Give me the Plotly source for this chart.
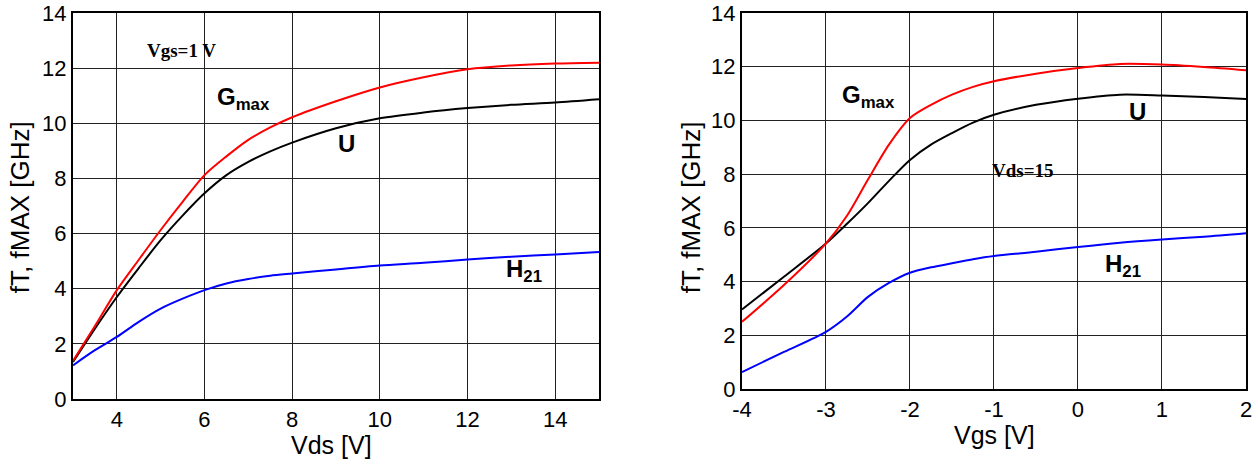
import plotly.graph_objects as go

# Left panel: vs Vds (Vgs = 1 V)
vds = [3, 3.5, 4, 4.5, 5, 5.5, 6, 6.5, 7, 7.5, 8, 9, 10, 11, 12, 13, 14, 15]
gmax_vds = [1.38, 2.65, 3.95, 5.05, 6.13, 7.15, 8.12, 8.8, 9.4, 9.85, 10.22, 10.8, 11.3, 11.67, 11.96, 12.1, 12.17, 12.2]
u_vds = [1.34, 2.55, 3.7, 4.75, 5.76, 6.65, 7.46, 8.12, 8.6, 8.98, 9.3, 9.82, 10.18, 10.39, 10.55, 10.67, 10.75, 10.87]
h21_vds = [1.22, 1.77, 2.25, 2.8, 3.28, 3.64, 3.95, 4.19, 4.35, 4.47, 4.55, 4.7, 4.84, 4.94, 5.06, 5.16, 5.24, 5.33]
vds_ticks = [4, 6, 8, 10, 12, 14]

# Right panel: vs Vgs (Vds = 15 V)
vgs = [-4, -3.5, -3, -2.75, -2.5, -2.25, -2, -1.75, -1.5, -1.25, -1, -0.5, 0, 0.5, 1, 1.5, 2]
gmax_vgs = [2.5, 3.87, 5.42, 6.45, 7.8, 9.1, 10.09, 10.58, 10.96, 11.25, 11.46, 11.74, 11.95, 12.1, 12.08, 11.99, 11.87]
u_vgs = [2.96, 4.18, 5.42, 6.15, 6.92, 7.75, 8.53, 9.1, 9.53, 9.92, 10.21, 10.58, 10.81, 10.96, 10.93, 10.87, 10.8]
h21_vgs = [0.63, 1.38, 2.13, 2.7, 3.43, 3.95, 4.33, 4.53, 4.68, 4.83, 4.95, 5.11, 5.29, 5.45, 5.57, 5.67, 5.8]
vgs_ticks = [-4, -3, -2, -1, 0, 1, 2]
vgs_ticktext = ["-4", "-3", "-2", "-1", "0", "1", "2"]

fig = go.Figure()
def add(x, y, color, xa, ya):
    fig.add_trace(go.Scatter(x=x, y=y, mode="lines", line=dict(color=color, width=2, shape="spline", smoothing=0.8),
                             xaxis=xa, yaxis=ya, showlegend=False))

add(vds, h21_vds, "#0000ff", "x", "y")
add(vds, u_vds, "#000000", "x", "y")
add(vds, gmax_vds, "#ff0000", "x", "y")
add(vgs, h21_vgs, "#0000ff", "x2", "y2")
add(vgs, u_vgs, "#000000", "x2", "y2")
add(vgs, gmax_vgs, "#ff0000", "x2", "y2")

tickfont = dict(family="Liberation Sans, Arial", size=22, color="#000")
common = dict(showgrid=True, gridcolor="#222", gridwidth=1, showline=True, linecolor="#000", linewidth=2,
              mirror=True, ticks="", tickfont=tickfont, zeroline=False, automargin=False)

fig.update_layout(
    width=1259, height=464, plot_bgcolor="white", paper_bgcolor="white",
    margin=dict(l=73, r=13, t=13, b=65),
    xaxis=dict(domain=[0, 0.4484], range=[3, 15], tickvals=vds_ticks, anchor="y", **common),
    yaxis=dict(domain=[0, 1], range=[0, 14], dtick=2, anchor="x", **common),
    xaxis2=dict(domain=[0.5703, 1], range=[-4, 2], tickvals=vgs_ticks, ticktext=vgs_ticktext, anchor="y2", **common),
    yaxis2=dict(domain=[0.0259, 1], range=[0, 14], dtick=2, anchor="x2", **common),
)

titlefont_x = dict(family="Liberation Sans, Arial", size=25, color="#000")
titlefont_y = dict(family="Liberation Sans, Arial", size=26, color="#000")
ttl = dict(xref="paper", yref="paper", showarrow=False, xanchor="center", yanchor="middle")
fig.add_annotation(x=0.2208, y=-0.118, text="Vds [V]", font=titlefont_x, **ttl)
fig.add_annotation(x=0.786, y=-0.094, text="Vgs [V]", font=titlefont_x, **ttl)
fig.add_annotation(x=-0.0452, y=0.497, text="fT, fMAX [GHz]", textangle=-90, font=titlefont_y, **ttl)
fig.add_annotation(x=0.527, y=0.497, text="fT, fMAX [GHz]", textangle=-90, font=titlefont_y, **ttl)

lab = dict(family="Liberation Sans, Arial", size=24, color="#000")
ser = dict(family="Liberation Serif, Times New Roman", size=19, color="#000")
anns = [
    ("x", "y", 6.9, 10.9, "<b>G<sub>max</sub></b>", lab),
    ("x", "y", 9.23, 9.27, "<b>U</b>", lab),
    ("x", "y", 13.3, 4.67, "<b>H<sub>21</sub></b>", lab),
    ("x", "y", 5.48, 12.64, "<b>Vgs=1 V</b>", ser),
    ("x2", "y2", -2.49, 10.9, "<b>G<sub>max</sub></b>", lab),
    ("x2", "y2", 0.71, 10.34, "<b>U</b>", lab),
    ("x2", "y2", 0.54, 4.61, "<b>H<sub>21</sub></b>", lab),
    ("x2", "y2", -0.66, 8.12, "<b>Vds=15</b>", ser),
]
for xr, yr, x, y, t, f in anns:
    fig.add_annotation(xref=xr, yref=yr, x=x, y=y, text=t, showarrow=False, font=f)

# remove the default 8px page margin so the figure fills the window exactly
fig.write_html("out.html", config={"displayModeBar": False},
               post_script="document.body.style.margin='0';")
